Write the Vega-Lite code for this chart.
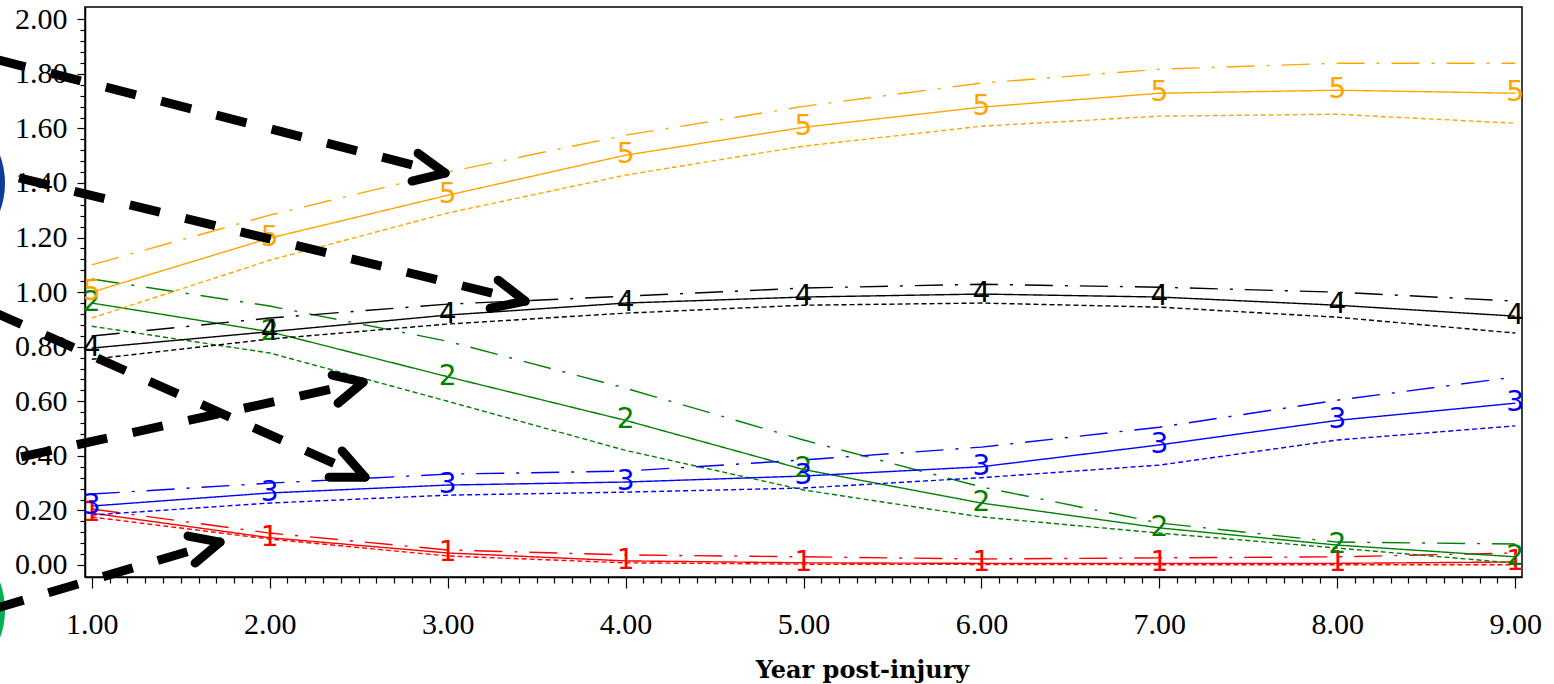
{
"$schema": "https://vega.github.io/schema/vega-lite/v6.json",
"width": 1437, "height": 570,
"autosize": {"type": "none"},
"padding": {"left": 85, "top": 7, "right": 32, "bottom": 107},
"background": "white",
"config": {"view": {"stroke": "#000", "strokeWidth": 1.5}, "axis": {"grid": false, "domainColor": "#000", "domainWidth": 1.5, "tickColor": "#000", "tickWidth": 1.2, "labelColor": "#000", "titleColor": "#000"}},
"resolve": {"axis": {"x": "independent", "y": "independent"}},
"datasets": {
"lines": [
{"x":1,"y":0.19,"g":1,"t":"solid"},{"x":2,"y":0.10,"g":1,"t":"solid"},{"x":3,"y":0.044,"g":1,"t":"solid"},{"x":4,"y":0.015,"g":1,"t":"solid"},{"x":5,"y":0.008,"g":1,"t":"solid"},{"x":6,"y":0.006,"g":1,"t":"solid"},{"x":7,"y":0.006,"g":1,"t":"solid"},{"x":8,"y":0.006,"g":1,"t":"solid"},{"x":9,"y":0.011,"g":1,"t":"solid"},
{"x":1,"y":0.176,"g":1,"t":"dashed"},{"x":2,"y":0.095,"g":1,"t":"dashed"},{"x":3,"y":0.033,"g":1,"t":"dashed"},{"x":4,"y":0.008,"g":1,"t":"dashed"},{"x":5,"y":0.003,"g":1,"t":"dashed"},{"x":6,"y":0.002,"g":1,"t":"dashed"},{"x":7,"y":0.001,"g":1,"t":"dashed"},{"x":8,"y":0.001,"g":1,"t":"dashed"},{"x":9,"y":0.001,"g":1,"t":"dashed"},
{"x":1,"y":0.205,"g":1,"t":"dashdot"},{"x":2,"y":0.117,"g":1,"t":"dashdot"},{"x":3,"y":0.055,"g":1,"t":"dashdot"},{"x":4,"y":0.037,"g":1,"t":"dashdot"},{"x":5,"y":0.03,"g":1,"t":"dashdot"},{"x":6,"y":0.022,"g":1,"t":"dashdot"},{"x":7,"y":0.026,"g":1,"t":"dashdot"},{"x":8,"y":0.03,"g":1,"t":"dashdot"},{"x":9,"y":0.044,"g":1,"t":"dashdot"},
{"x":1,"y":0.96,"g":2,"t":"solid"},{"x":2,"y":0.855,"g":2,"t":"solid"},{"x":3,"y":0.69,"g":2,"t":"solid"},{"x":4,"y":0.53,"g":2,"t":"solid"},{"x":5,"y":0.35,"g":2,"t":"solid"},{"x":6,"y":0.227,"g":2,"t":"solid"},{"x":7,"y":0.136,"g":2,"t":"solid"},{"x":8,"y":0.073,"g":2,"t":"solid"},{"x":9,"y":0.03,"g":2,"t":"solid"},
{"x":1,"y":0.875,"g":2,"t":"dashed"},{"x":2,"y":0.777,"g":2,"t":"dashed"},{"x":3,"y":0.60,"g":2,"t":"dashed"},{"x":4,"y":0.42,"g":2,"t":"dashed"},{"x":5,"y":0.275,"g":2,"t":"dashed"},{"x":6,"y":0.176,"g":2,"t":"dashed"},{"x":7,"y":0.117,"g":2,"t":"dashed"},{"x":8,"y":0.062,"g":2,"t":"dashed"},{"x":9,"y":0.007,"g":2,"t":"dashed"},
{"x":1,"y":1.048,"g":2,"t":"dashdot"},{"x":2,"y":0.949,"g":2,"t":"dashdot"},{"x":3,"y":0.82,"g":2,"t":"dashdot"},{"x":4,"y":0.648,"g":2,"t":"dashdot"},{"x":5,"y":0.458,"g":2,"t":"dashdot"},{"x":6,"y":0.286,"g":2,"t":"dashdot"},{"x":7,"y":0.154,"g":2,"t":"dashdot"},{"x":8,"y":0.084,"g":2,"t":"dashdot"},{"x":9,"y":0.077,"g":2,"t":"dashdot"},
{"x":1,"y":0.216,"g":3,"t":"solid"},{"x":2,"y":0.264,"g":3,"t":"solid"},{"x":3,"y":0.293,"g":3,"t":"solid"},{"x":4,"y":0.304,"g":3,"t":"solid"},{"x":5,"y":0.326,"g":3,"t":"solid"},{"x":6,"y":0.36,"g":3,"t":"solid"},{"x":7,"y":0.44,"g":3,"t":"solid"},{"x":8,"y":0.53,"g":3,"t":"solid"},{"x":9,"y":0.593,"g":3,"t":"solid"},
{"x":1,"y":0.183,"g":3,"t":"dashed"},{"x":2,"y":0.227,"g":3,"t":"dashed"},{"x":3,"y":0.256,"g":3,"t":"dashed"},{"x":4,"y":0.267,"g":3,"t":"dashed"},{"x":5,"y":0.282,"g":3,"t":"dashed"},{"x":6,"y":0.32,"g":3,"t":"dashed"},{"x":7,"y":0.366,"g":3,"t":"dashed"},{"x":8,"y":0.458,"g":3,"t":"dashed"},{"x":9,"y":0.51,"g":3,"t":"dashed"},
{"x":1,"y":0.26,"g":3,"t":"dashdot"},{"x":2,"y":0.30,"g":3,"t":"dashdot"},{"x":3,"y":0.333,"g":3,"t":"dashdot"},{"x":4,"y":0.344,"g":3,"t":"dashdot"},{"x":5,"y":0.385,"g":3,"t":"dashdot"},{"x":6,"y":0.432,"g":3,"t":"dashdot"},{"x":7,"y":0.505,"g":3,"t":"dashdot"},{"x":8,"y":0.604,"g":3,"t":"dashdot"},{"x":9,"y":0.689,"g":3,"t":"dashdot"},
{"x":1,"y":0.795,"g":4,"t":"solid"},{"x":2,"y":0.855,"g":4,"t":"solid"},{"x":3,"y":0.916,"g":4,"t":"solid"},{"x":4,"y":0.96,"g":4,"t":"solid"},{"x":5,"y":0.982,"g":4,"t":"solid"},{"x":6,"y":0.993,"g":4,"t":"solid"},{"x":7,"y":0.982,"g":4,"t":"solid"},{"x":8,"y":0.952,"g":4,"t":"solid"},{"x":9,"y":0.912,"g":4,"t":"solid"},
{"x":1,"y":0.754,"g":4,"t":"dashed"},{"x":2,"y":0.828,"g":4,"t":"dashed"},{"x":3,"y":0.883,"g":4,"t":"dashed"},{"x":4,"y":0.923,"g":4,"t":"dashed"},{"x":5,"y":0.952,"g":4,"t":"dashed"},{"x":6,"y":0.96,"g":4,"t":"dashed"},{"x":7,"y":0.945,"g":4,"t":"dashed"},{"x":8,"y":0.908,"g":4,"t":"dashed"},{"x":9,"y":0.85,"g":4,"t":"dashed"},
{"x":1,"y":0.839,"g":4,"t":"dashdot"},{"x":2,"y":0.905,"g":4,"t":"dashdot"},{"x":3,"y":0.956,"g":4,"t":"dashdot"},{"x":4,"y":0.985,"g":4,"t":"dashdot"},{"x":5,"y":1.015,"g":4,"t":"dashdot"},{"x":6,"y":1.029,"g":4,"t":"dashdot"},{"x":7,"y":1.018,"g":4,"t":"dashdot"},{"x":8,"y":1.0,"g":4,"t":"dashdot"},{"x":9,"y":0.967,"g":4,"t":"dashdot"},
{"x":1,"y":1.0,"g":5,"t":"solid"},{"x":2,"y":1.198,"g":5,"t":"solid"},{"x":3,"y":1.355,"g":5,"t":"solid"},{"x":4,"y":1.502,"g":5,"t":"solid"},{"x":5,"y":1.604,"g":5,"t":"solid"},{"x":6,"y":1.678,"g":5,"t":"solid"},{"x":7,"y":1.729,"g":5,"t":"solid"},{"x":8,"y":1.74,"g":5,"t":"solid"},{"x":9,"y":1.729,"g":5,"t":"solid"},
{"x":1,"y":0.905,"g":5,"t":"dashed"},{"x":2,"y":1.117,"g":5,"t":"dashed"},{"x":3,"y":1.29,"g":5,"t":"dashed"},{"x":4,"y":1.429,"g":5,"t":"dashed"},{"x":5,"y":1.535,"g":5,"t":"dashed"},{"x":6,"y":1.608,"g":5,"t":"dashed"},{"x":7,"y":1.645,"g":5,"t":"dashed"},{"x":8,"y":1.652,"g":5,"t":"dashed"},{"x":9,"y":1.619,"g":5,"t":"dashed"},
{"x":1,"y":1.10,"g":5,"t":"dashdot"},{"x":2,"y":1.282,"g":5,"t":"dashdot"},{"x":3,"y":1.44,"g":5,"t":"dashdot"},{"x":4,"y":1.575,"g":5,"t":"dashdot"},{"x":5,"y":1.681,"g":5,"t":"dashdot"},{"x":6,"y":1.766,"g":5,"t":"dashdot"},{"x":7,"y":1.817,"g":5,"t":"dashdot"},{"x":8,"y":1.839,"g":5,"t":"dashdot"},{"x":9,"y":1.839,"g":5,"t":"dashdot"}
],
"arrows": [
{"x":2.986,"y":1.436,"x2":0.372,"y2":1.868,"k":"shaft"},
{"x":3.436,"y":0.967,"x2":0.372,"y2":1.454,"k":"shaft"},
{"x":2.536,"y":0.322,"x2":0.372,"y2":0.949,"k":"shaft"},
{"x":2.525,"y":0.670,"x2":0.372,"y2":0.363,"k":"shaft"},
{"x":1.721,"y":0.084,"x2":0.372,"y2":-0.176,"k":"shaft"},
{"x":2.986,"y":1.436,"x2":2.834,"y2":1.509,"k":"head"},
{"x":2.986,"y":1.436,"x2":2.800,"y2":1.407,"k":"head"},
{"x":3.436,"y":0.967,"x2":3.284,"y2":1.044,"k":"head"},
{"x":3.436,"y":0.967,"x2":3.239,"y2":0.941,"k":"head"},
{"x":2.525,"y":0.670,"x2":2.351,"y2":0.696,"k":"head"},
{"x":2.525,"y":0.670,"x2":2.384,"y2":0.593,"k":"head"},
{"x":2.536,"y":0.322,"x2":2.407,"y2":0.418,"k":"head"},
{"x":2.536,"y":0.322,"x2":2.334,"y2":0.322,"k":"head"},
{"x":1.721,"y":0.084,"x2":1.541,"y2":0.106,"k":"head"},
{"x":1.721,"y":0.084,"x2":1.581,"y2":0.007,"k":"head"}
],
"dots": [
{"x":0.063,"y":1.399,"c":"blue"},
{"x":0.063,"y":-0.165,"c":"green"}
]
},
"layer": [
{
"data": {"name": "lines"},
"mark": {"type": "line", "strokeWidth": 1.4},
"encoding": {
"x": {"field": "x", "type": "quantitative", "scale": {"domain": [0.962, 9.038], "nice": false, "zero": false},
"axis": {"orient": "bottom", "values": [1,2,3,4,5,6,7,8,9], "format": ".2f", "tickSize": 11,
"labelFont": "Liberation Serif", "labelFontSize": 30, "labelPadding": 21, "labelFlush": false, "labelOverlap": false, "labelBound": false,
"title": "Year post-injury", "titleFont": "DejaVu Serif", "titleFontSize": 24, "titleFontWeight": "bold",
"titleX": 777, "titleY": 100, "titleAlign": "center", "titleBaseline": "alphabetic"}},
"y": {"field": "y", "type": "quantitative", "scale": {"domain": [-0.044, 2.045], "nice": false, "zero": false},
"axis": {"orient": "left", "values": [0,0.2,0.4,0.6,0.8,1,1.2,1.4,1.6,1.8,2], "format": ".2f", "tickSize": 8,
"labelFont": "Liberation Serif", "labelFontSize": 30, "labelPadding": 10, "labelFlush": false, "labelOverlap": false, "labelBound": false,
"title": null}},
"color": {"field": "g", "type": "nominal", "scale": {"domain": [1,2,3,4,5], "range": ["#ff0000", "#008000", "#0000ff", "#000000", "#ffa500"]}, "legend": null},
"strokeDash": {"field": "t", "type": "nominal", "scale": {"domain": ["solid", "dashed", "dashdot"], "range": [[1,0],[5,3],[28,12,3,12]]}, "legend": null}
}
},
{
"data": {"name": "lines"},
"mark": {"type": "point", "opacity": 0, "size": 1},
"encoding": {
"x": {"field": "x", "type": "quantitative",
"axis": {"orient": "bottom", "values": [1.1,1.2,1.3,1.4,1.5,1.6,1.7,1.8,1.9,2.1,2.2,2.3,2.4,2.5,2.6,2.7,2.8,2.9,3.1,3.2,3.3,3.4,3.5,3.6,3.7,3.8,3.9,4.1,4.2,4.3,4.4,4.5,4.6,4.7,4.8,4.9,5.1,5.2,5.3,5.4,5.5,5.6,5.7,5.8,5.9,6.1,6.2,6.3,6.4,6.5,6.6,6.7,6.8,6.9,7.1,7.2,7.3,7.4,7.5,7.6,7.7,7.8,7.9,8.1,8.2,8.3,8.4,8.5,8.6,8.7,8.8,8.9], "tickSize": 6, "labels": false, "domain": false, "title": null}},
"y": {"field": "y", "type": "quantitative",
"axis": {"orient": "left", "values": [0.04,0.08,0.12,0.16,0.24,0.28,0.32,0.36,0.44,0.48,0.52,0.56,0.64,0.68,0.72,0.76,0.84,0.88,0.92,0.96,1.04,1.08,1.12,1.16,1.24,1.28,1.32,1.36,1.44,1.48,1.52,1.56,1.64,1.68,1.72,1.76,1.84,1.88,1.92,1.96], "tickSize": 5, "labels": false, "domain": false, "title": null}}
}
},
{
"data": {"name": "lines"},
"transform": [{"filter": "datum.t == 'solid'"}],
"mark": {"type": "text", "font": "DejaVu Sans", "fontSize": 28, "align": "center", "baseline": "middle"},
"encoding": {
"x": {"field": "x", "type": "quantitative", "axis": null},
"y": {"field": "y", "type": "quantitative", "axis": null},
"text": {"field": "g", "type": "nominal"},
"color": {"field": "g", "type": "nominal", "legend": null}
}
},
{
"data": {"name": "dots"},
"transform": [{"filter": "datum.c == 'blue'"}],
"mark": {"type": "point", "shape": "circle", "filled": true, "size": 25600, "color": "#0f3c96", "opacity": 1, "clip": false},
"encoding": {"x": {"field": "x", "type": "quantitative", "axis": null}, "y": {"field": "y", "type": "quantitative", "axis": null}}
},
{
"data": {"name": "dots"},
"transform": [{"filter": "datum.c == 'green'"}],
"mark": {"type": "point", "shape": "circle", "filled": true, "size": 25600, "color": "#00b050", "opacity": 1, "clip": false},
"encoding": {"x": {"field": "x", "type": "quantitative", "axis": null}, "y": {"field": "y", "type": "quantitative", "axis": null}}
},
{
"data": {"name": "arrows"},
"transform": [{"filter": "datum.k == 'shaft'"}],
"mark": {"type": "rule", "color": "#000", "strokeWidth": 9, "strokeDash": [31, 26], "strokeDashOffset": 23, "strokeCap": "butt", "clip": false},
"encoding": {"x": {"field": "x", "type": "quantitative", "axis": null}, "y": {"field": "y", "type": "quantitative", "axis": null}, "x2": {"field": "x2"}, "y2": {"field": "y2"}}
},
{
"data": {"name": "arrows"},
"transform": [{"filter": "datum.k == 'head'"}],
"mark": {"type": "rule", "color": "#000", "strokeWidth": 9, "strokeCap": "round", "clip": false},
"encoding": {"x": {"field": "x", "type": "quantitative", "axis": null}, "y": {"field": "y", "type": "quantitative", "axis": null}, "x2": {"field": "x2"}, "y2": {"field": "y2"}}
}
]
}
